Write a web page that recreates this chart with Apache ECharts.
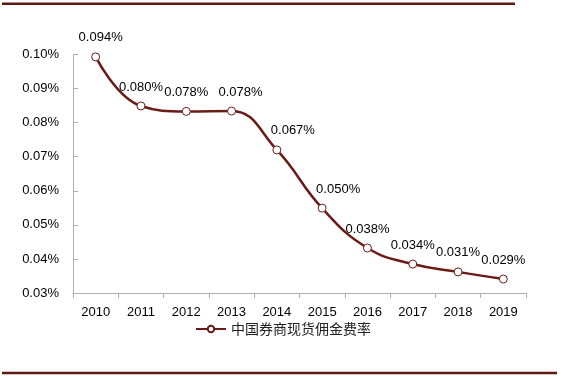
<!DOCTYPE html>
<html><head><meta charset="utf-8">
<script src="https://cdn.jsdelivr.net/npm/echarts@6/dist/echarts.min.js"></script>
<style>html,body{margin:0;padding:0;background:#fff}#c{width:566px;height:379px}</style>
</head><body><div id="c"></div>
<script>
var years = ['2010','2011','2012','2013','2014','2015','2016','2017','2018','2019'];
var rateValues = [0.0993, 0.0849, 0.0833, 0.0834, 0.0720, 0.0549, 0.0432, 0.0385, 0.0362, 0.0341];
var rateLabels = ['0.094%','0.080%','0.078%','0.078%','0.067%','0.050%','0.038%','0.034%','0.031%','0.029%'];
var seriesName = '中国券商现货佣金费率';
var yTicks = [0.03, 0.04, 0.05, 0.06, 0.07, 0.08, 0.09, 0.10];

var labelDx = [5, 0, 0, 9, 16, 16, 0, 0, 0, 0];
var dark = '#6A1B15';
var font = '"Liberation Sans Narrow","Liberation Sans",Arial,sans-serif';

var chart = echarts.init(document.getElementById('c'), null, {renderer:'canvas'});
chart.setOption({
  animation: false,
  grid: {left: 73, right: 40, top: 54.5, bottom: 86},
  legend: {
    data: [seriesName], bottom: 38, left: 190,
    itemWidth: 30, itemHeight: 8, itemGap: 5,
    textStyle: {fontFamily: '"Noto Sans CJK SC"', fontSize: 14, color: '#222', padding: [0,0,0,0]}
  },
  xAxis: {
    type: 'category', data: years, boundaryGap: true,
    axisLine: {lineStyle: {color: '#b0b0b0', width: 1}},
    axisTick: {show: true, length: 5, lineStyle: {color: '#b0b0b0'}},
    axisLabel: {color: '#000', fontSize: 13, fontFamily: font, margin: 13}
  },
  yAxis: {
    type: 'value', min: yTicks[0], max: yTicks[yTicks.length-1], interval: 0.01,
    splitLine: {show: false},
    axisLine: {show: true, lineStyle: {color: '#b0b0b0', width: 1}},
    axisTick: {show: true, inside: true, length: 5, lineStyle: {color: '#b0b0b0'}},
    axisLabel: {color: '#000', fontSize: 13, fontFamily: font, margin: 14,
      formatter: function(v){ return v.toFixed(2) + '%'; }}
  },
  series: [{
    name: seriesName, type: 'line', smooth: 0.45,
    data: rateValues.map(function(v, i){
      return {value: v, label: {offset: [labelDx[i], 0]}};
    }),
    symbol: 'circle', symbolSize: 8,
    lineStyle: {color: dark, width: 2.5},
    itemStyle: {color: '#fff', borderColor: dark, borderWidth: 1},
    label: {show: true, position: 'top', distance: 8, color: '#000', fontSize: 13, fontFamily: font,
      formatter: function(p){ return rateLabels[p.dataIndex]; }}
  }],
  graphic: [
    {type: 'line', shape: {x1: 2, y1: 3.8, x2: 515, y2: 3.8}, style: {stroke: '#5E1A12', lineWidth: 2.5}},
    {type: 'line', shape: {x1: 2, y1: 373, x2: 557, y2: 373}, style: {stroke: '#5E1A12', lineWidth: 2.5}}
  ]
});
</script></body></html>
